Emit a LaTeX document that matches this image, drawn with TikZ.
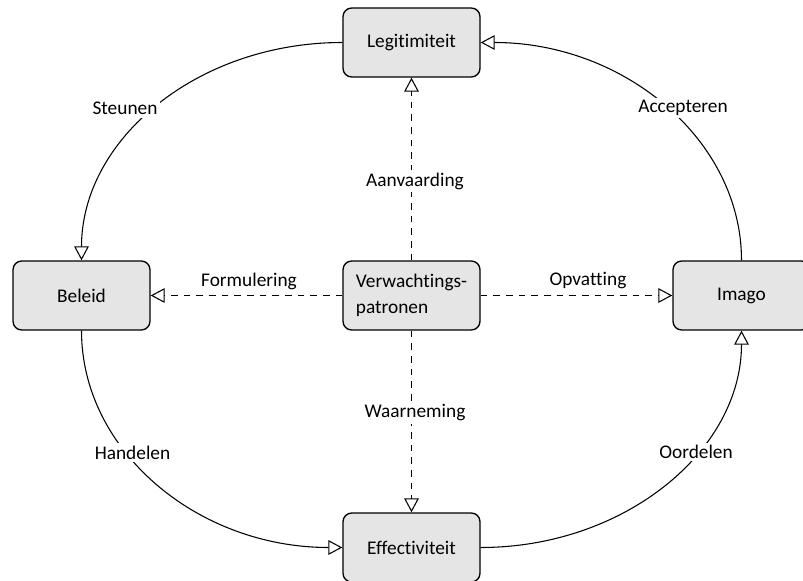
\documentclass[tikz,border=0pt]{standalone}
\usepackage{fontspec}
\setmainfont{Carlito}[Ligatures=NoCommon]
\usetikzlibrary{arrows.meta}

\tikzset{
  box/.style={draw=black, line width=1pt, fill=black!10, rounded corners=6.5pt,
    minimum width=102.75pt, minimum height=51.75pt, align=left,
    font=\fontsize{14.5}{20}\selectfont, inner sep=3pt},
  lbl/.style={fill=white, inner sep=2pt, font=\fontsize{14.5}{16}\selectfont},
  plainlbl/.style={inner sep=2pt, font=\fontsize{14.5}{16}\selectfont},
  tip/.style={-{Triangle[length=10.5pt,width=11pt,fill=white,line width=0.8pt]}},
  flow/.style={tip, line width=0.8pt},
  dflow/.style={tip, line width=0.8pt, dash pattern=on 5pt off 4.5pt},
}

\begin{document}
\begin{tikzpicture}[x=0.75pt,y=-0.75pt]
  \useasboundingbox (0,0) rectangle (803,581);

  % boxes
  \node[box] (leg) at (411.5,42.5)  {Legitimiteit};
  \node[box] (bel) at (81.5,295.5)  {Beleid};
  \node[box] (ver) at (411.5,295.5) {Verwachtings-\\patronen};
  \node[box] (ima) at (741.5,295.5) {Imago};
  \node[box] (eff) at (411.5,547.5) {Effectiviteit};

  % outer cycle
  \draw[flow] (leg.west) .. controls +(-145,0) and +(0,-121) .. (bel.north);
  \draw[flow] (ima.north) .. controls +(0,-120) and +(144,0) .. (leg.east);
  \draw[flow] (bel.south) .. controls +(0,120) and +(-145,0) .. (eff.west);
  \draw[flow] (eff.east) .. controls +(144,0) and +(0,120) .. (ima.south);

  % dashed links from the centre
  \draw[dflow] (ver.north) -- (leg.south);
  \draw[dflow] (ver.west) -- (bel.east);
  \draw[dflow] (ver.east) -- (ima.west);
  \draw[dflow] (ver.south) -- (eff.north);

  % labels
  \node[lbl] (l1) at (125,108.5) {Steunen};
  \node[lbl] (l2) at (683,108) {Accepteren};
  \node[lbl] (l3) at (132.5,452.5) {Handelen};
  \node[lbl] (l4) at (696,452) {Oordelen};
  \node[lbl] (l5) at (415,181) {Aanvaarding};
  \node[lbl] (l6) at (415,413) {Waarneming};
  \node[plainlbl] (l7) at (249,281) {Formulering};
  \node[plainlbl] (l8) at (588,281) {Opvatting};
\end{tikzpicture}
\end{document}
